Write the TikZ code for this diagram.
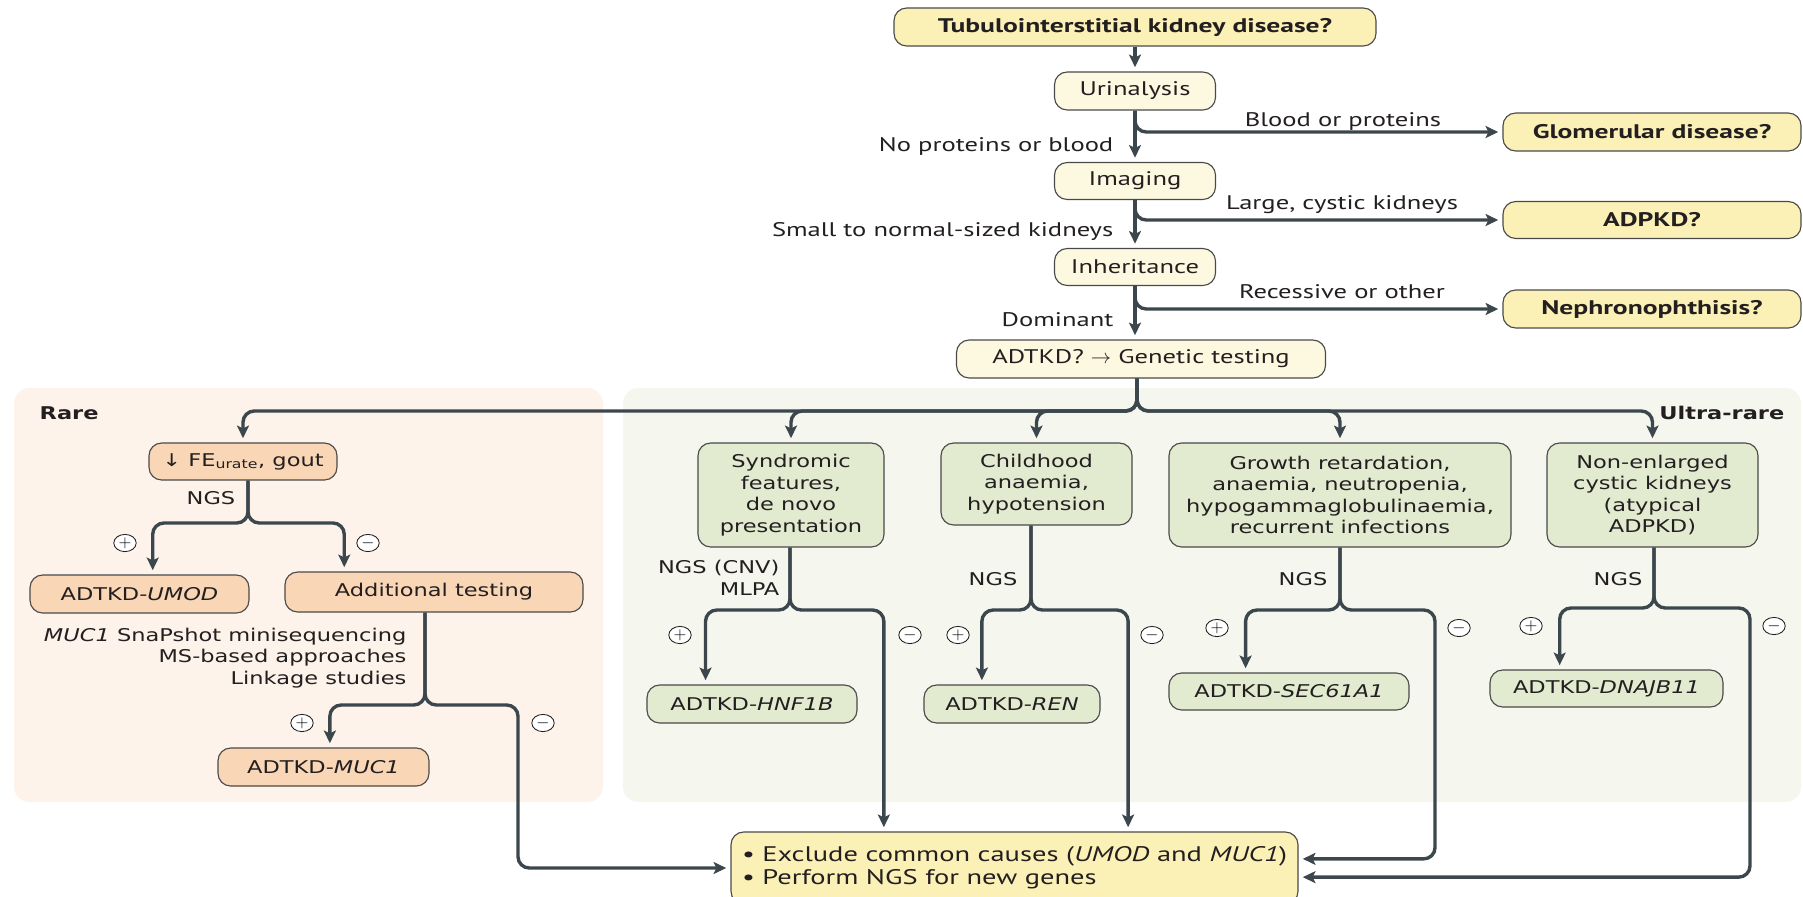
\documentclass[tikz,border=0pt]{standalone}
\usepackage{fontspec}
\setmainfont{DejaVu Sans}[FakeStretch=1.28]
\newfontfamily\topfont{PT Sans}[FakeStretch=1.35]
\newfontfamily\topbold{PT Sans}[FakeStretch=1.4]
\usepackage{tikz}
\usetikzlibrary{arrows.meta,calc,shapes.geometric}

\definecolor{ink}{HTML}{231F20}
\definecolor{flowline}{HTML}{3B464D}
\definecolor{boxline}{HTML}{4A4A4A}
\definecolor{qfill}{HTML}{FBF1B6}
\definecolor{sfill}{HTML}{FDF8E0}
\definecolor{rarebg}{HTML}{FDF3EA}
\definecolor{rarefill}{HTML}{F9D6B6}
\definecolor{ultrabg}{HTML}{F5F6EE}
\definecolor{ultrafill}{HTML}{E2EAD0}

\newcommand\lowfont{\fontsize{12.5}{15.3}\selectfont}
\newcommand\upfont{\topfont\fontsize{14}{15.6}\selectfont}

\tikzset{
  box/.style={draw=boxline, line width=0.8pt, rounded corners=9pt, inner sep=1pt, align=center, text=ink},
  boxsize/.style 2 args={minimum width=#1*0.025cm, minimum height=#2*0.025cm},
  qbox/.style={box, fill=qfill, font=\topbold\bfseries\fontsize{14}{15.6}\selectfont},
  sbox/.style={box, fill=sfill, font=\upfont},
  rbox/.style={box, fill=rarefill, font=\lowfont},
  ubox/.style={box, fill=ultrafill, font=\lowfont},
  tlab/.style={font=\upfont, text=ink, inner sep=1pt},
  llab/.style={font=\lowfont, text=ink, inner sep=1pt},
  flow/.style={draw=flowline, line width=2.4pt, rounded corners=8pt, shorten >=3pt,
    -{Stealth[length=9pt,width=8.5pt,inset=2pt]}},
  sign/.style={ellipse, draw=ink, fill=white, line width=0.6pt, minimum width=0.56cm,
    minimum height=0.43cm, inner sep=0pt, font=\fontsize{12}{12}\selectfont}
}

\begin{document}
\begin{tikzpicture}[x=0.025cm,y=-0.025cm]
  \useasboundingbox (0,0) rectangle (1803,896);
  \clip (0,0) rectangle (1803,896);

  % the two groups of causes
  \fill[rarebg,rounded corners=11pt] (14,388) rectangle (603,802);
  \fill[ultrabg,rounded corners=11pt] (623,388) rectangle (1801,802);
  \node[llab,font=\lowfont\bfseries,anchor=west] (rare) at (38,413) {Rare};
  \node[llab,font=\lowfont\bfseries,anchor=east] (ultra) at (1786,413) {Ultra-rare};

  % first steps
  \node[qbox,boxsize={482}{38}] (tid) at (1135,27) {Tubulointerstitial kidney disease?};
  \node[sbox,boxsize={161}{38}] (urine) at (1135,91) {Urinalysis};
  \node[qbox,boxsize={298}{38}] (glom) at (1652,132) {Glomerular disease?};
  \node[sbox,boxsize={161}{37}] (imag) at (1135,181) {Imaging};
  \node[qbox,boxsize={298}{37}] (adpkd) at (1652,220) {ADPKD?};
  \node[sbox,boxsize={161}{37}] (inher) at (1135,267) {Inheritance};
  \node[qbox,boxsize={298}{38}] (neph) at (1652,309) {Nephronophthisis?};
  \node[sbox,boxsize={369}{38}] (gen) at (1141,359) {ADTKD? $\rightarrow$ Genetic testing};

  \draw[flow] (tid) -- (urine);
  \draw[flow] (urine) -- (imag);
  \draw[flow] (urine.south) |- (glom.west);
  \draw[flow] (imag) -- (inher);
  \draw[flow] (imag.south) |- (adpkd.west);
  \draw[flow] (inher) -- (inher |- gen.north);
  \draw[flow] (inher.south) |- (neph.west);

  \node[tlab] (blood) at (1343,121) {Blood or proteins};
  \node[tlab,anchor=east] (noblood) at (1115,146) {No proteins or blood};
  \node[tlab] (cystic) at (1342,205) {Large, cystic kidneys};
  \node[tlab,anchor=east] (small) at (1115,232) {Small to normal-sized kidneys};
  \node[tlab] (recess) at (1342,292) {Recessive or other};
  \node[tlab,anchor=east] (dom) at (1115,320) {Dominant};

  % clinical clues
  \node[rbox,boxsize={188}{37}] (fe) at (243,461.5) {↓ FE\textsubscript{urate}, gout};
  \node[ubox,boxsize={186}{104}] (syn) at (791,495) {Syndromic\\features,\\de novo\\presentation};
  \node[ubox,boxsize={191}{82}] (chi) at (1036.5,484) {Childhood\\anaemia,\\hypotension};
  \node[ubox,boxsize={342}{104}] (grow) at (1340,495) {Growth retardation,\\anaemia, neutropenia,\\hypogammaglobulinaemia,\\recurrent infections};
  \node[ubox,boxsize={211}{104}] (non) at (1652.5,495) {Non-enlarged\\cystic kidneys\\(atypical\\ADPKD)};

  \coordinate (gen-split) at (1137,411);
  \draw[flow] (gen.south -| gen-split) -- (gen-split) -| (fe.north);
  \draw[flow] (gen.south -| gen-split) -- (gen-split) -| (syn.north);
  \draw[flow] (gen.south -| gen-split) -- (gen-split) -| (chi.north);
  \draw[flow] (gen.south -| gen-split) -- (gen-split) -| (grow.north);
  \draw[flow] (gen.south -| gen-split) -- (gen-split) -| (non.north);

  % diagnoses
  \node[rbox,boxsize={219}{38}] (umod) at (139.5,594) {ADTKD-\textit{UMOD}};
  \node[rbox,boxsize={298}{40}] (addt) at (434,592) {Additional testing};
  \node[rbox,boxsize={211}{38}] (muc) at (323.5,767) {ADTKD-\textit{MUC1}};
  \node[ubox,boxsize={210}{38}] (hnf) at (752,704) {ADTKD-\textit{HNF1B}};
  \node[ubox,boxsize={176}{38}] (ren) at (1012,704) {ADTKD-\textit{REN}};
  \node[ubox,boxsize={240}{37}] (sec) at (1289,691.5) {ADTKD-\textit{SEC61A1}};
  \node[ubox,boxsize={233}{37}] (dna) at (1606.5,688.5) {ADTKD-\textit{DNAJB11}};
  \node[box,fill=qfill,font=\topfont\fontsize{15}{16.5}\selectfont,align=left,boxsize={567}{72}] (final) at (1014.5,868)
    {\textbullet\ Exclude common causes (\textit{UMOD} and \textit{MUC1})\\\textbullet\ Perform NGS for new genes};

  % rare branch
  \coordinate (fe-split) at (248,523);
  \draw[flow] (fe.south -| fe-split) -- (fe-split) -| ($(umod.north west)!.56!(umod.north east)$);
  \draw[flow] (fe.south -| fe-split) -- (fe-split) -| ($(addt.north west)!.2!(addt.north east)$);
  \node[llab] (ngs-fe) at (211,498) {NGS};
  \node[sign] (fe-pos) at (125,543) {$+$};
  \node[sign] (fe-neg) at (368,543) {$-$};
  \node[llab,anchor=east,align=right] (extra) at (408,658)
    {\textit{MUC1} SnaPshot minisequencing\\MS-based approaches\\Linkage studies};

  \coordinate (at-split) at (425,705);
  \coordinate (at-out) at (518,705);
  \draw[flow] (addt.south -| at-split) -- (at-split) -| ($(muc.north west)!.53!(muc.north east)$);
  \draw[flow] (addt.south -| at-split) -- (at-split) -- (at-out) |- (final.west);
  \node[sign] (at-pos) at (302,723) {$+$};
  \node[sign] (at-neg) at (543,723) {$-$};

  % ultra-rare branches
  \coordinate (syn-split) at (790,610);
  \draw[flow] (syn.south -| syn-split) -- (syn-split) -| ($(hnf.north west)!.28!(hnf.north east)$);
  \draw[flow] (syn.south -| syn-split) -- (syn-split) -| ($(final.north west)!.27!(final.north east)$);
  \node[llab,anchor=east,align=right] (ngs-syn) at (781,578) {NGS (CNV)\\MLPA};
  \node[sign] (syn-pos) at (680,635) {$+$};
  \node[sign] (syn-neg) at (910,635) {$-$};

  \coordinate (chi-split) at (1031,610);
  \draw[flow] (chi.south -| chi-split) -- (chi-split) -| ($(ren.north west)!.33!(ren.north east)$);
  \draw[flow] (chi.south -| chi-split) -- (chi-split) -| ($(final.north west)!.70!(final.north east)$);
  \node[llab] (ngs-chi) at (993,579) {NGS};
  \node[sign] (chi-pos) at (958,635) {$+$};
  \node[sign] (chi-neg) at (1152,635) {$-$};

  \coordinate (grow-split) at (1340,610);
  \coordinate (grow-out) at (1435,610);
  \draw[flow] (grow.south -| grow-split) -- (grow-split) -| ($(sec.north west)!.32!(sec.north east)$);
  \draw[flow] (grow.south -| grow-split) -- (grow-split) -- (grow-out) |- ($(final.north east)!.375!(final.south east)$);
  \node[llab] (ngs-grow) at (1303,579) {NGS};
  \node[sign] (grow-pos) at (1217,628) {$+$};
  \node[sign] (grow-neg) at (1459,628) {$-$};

  \coordinate (non-split) at (1654,608);
  \coordinate (non-out) at (1750,608);
  \draw[flow] (non.south -| non-split) -- (non-split) -| ($(dna.north west)!.30!(dna.north east)$);
  \draw[flow] (non.south -| non-split) -- (non-split) -- (non-out) |- ($(final.north east)!.625!(final.south east)$);
  \node[llab] (ngs-non) at (1618,579) {NGS};
  \node[sign] (non-pos) at (1531,626) {$+$};
  \node[sign] (non-neg) at (1774,626) {$-$};
\end{tikzpicture}
\end{document}
